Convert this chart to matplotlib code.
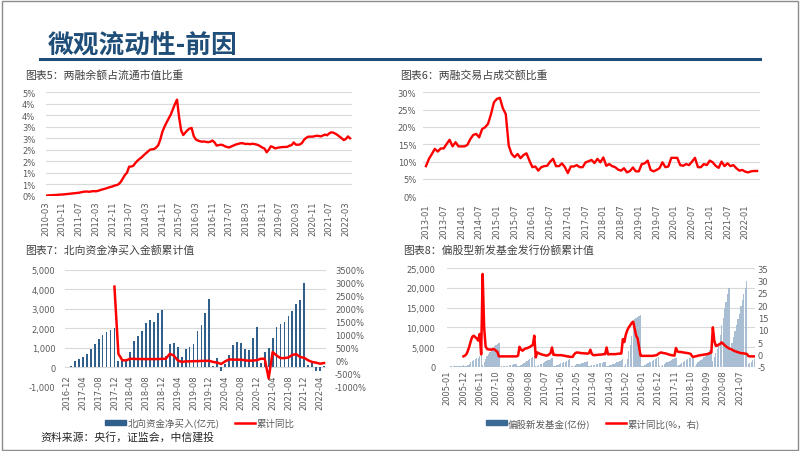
import numpy as np
import pandas as pd
import matplotlib
matplotlib.use("Agg")
import matplotlib.pyplot as plt
from matplotlib.patches import Rectangle
from matplotlib.lines import Line2D
from matplotlib.ticker import FuncFormatter, MultipleLocator

plt.rcParams['font.family'] = ['DejaVu Sans', 'Noto Sans CJK SC']
CJK = ['Noto Sans CJK SC', 'DejaVu Sans']

# ---------------- data ----------------
# Chart 5: margin balance / free-float market cap (%), monthly 2010-03 .. 2022-05
margin_months = pd.period_range('2010-03', '2022-05', freq='M').strftime('%Y-%m').tolist()
margin_share = [
    0.00, 0.01, 0.02, 0.02, 0.03, 0.03, 0.04, 0.05, 0.05, 0.06,
    0.07, 0.08, 0.09, 0.10, 0.11, 0.12, 0.13, 0.15, 0.17, 0.18, 0.18, 0.17,
    0.19, 0.20, 0.19, 0.21, 0.24, 0.27, 0.29, 0.32, 0.35, 0.38, 0.40, 0.44,
    0.46, 0.50, 0.60, 0.75, 0.90, 1.00, 1.26, 1.27, 1.30, 1.42, 1.52, 1.60,
    1.67, 1.76, 1.84, 1.92, 2.00, 2.02, 2.03, 2.10, 2.20, 2.45, 2.79, 3.00,
    3.19, 3.36, 3.53, 3.76, 3.99, 4.18, 3.41, 2.83, 2.64, 2.75, 2.85, 2.92,
    2.95, 2.60, 2.45, 2.40, 2.37, 2.35, 2.36, 2.34, 2.33, 2.35, 2.40, 2.32,
    2.18, 2.20, 2.22, 2.20, 2.15, 2.12, 2.10, 2.14, 2.18, 2.22, 2.25, 2.27,
    2.29, 2.27, 2.25, 2.26, 2.24, 2.26, 2.25, 2.23, 2.20, 2.15, 2.09, 2.05,
    1.89, 2.00, 2.15, 2.12, 2.06, 2.08, 2.10, 2.11, 2.12, 2.12, 2.13, 2.18,
    2.20, 2.32, 2.22, 2.22, 2.23, 2.30, 2.44, 2.52, 2.57, 2.57, 2.57, 2.59,
    2.61, 2.60, 2.58, 2.62, 2.66, 2.63, 2.71, 2.76, 2.74, 2.70, 2.64, 2.57,
    2.50, 2.42, 2.47, 2.58, 2.50,
]
margin_yticks = [0, 0.5, 1.0, 1.5, 2.0, 2.5, 3.0, 3.5, 4.0, 4.5]
margin_ylabels = ['0%', '1%', '1%', '2%', '2%', '3%', '3%', '4%', '4%', '5%']

# Chart 6: margin trading / total turnover (%), monthly 2013-01 .. 2022-05
turnover_months = pd.period_range('2013-01', '2022-05', freq='M').strftime('%Y-%m').tolist()
turnover_share = [
    8.7, 10.8, 12.2, 13.7, 12.9, 13.8, 13.8, 15.1, 16.3, 14.4, 15.6, 14.4,
    14.4, 14.4, 14.8, 16.5, 17.7, 18.0, 17.0, 19.4, 19.9, 20.9, 23.7, 27.1,
    28.1, 28.4, 25.4, 23.7, 14.6, 12.2, 11.3, 12.2, 11.0, 11.9, 12.4, 10.3,
    8.4, 8.6, 7.4, 8.4, 8.7, 8.8, 10.0, 10.8, 8.7, 8.7, 9.5, 8.4,
    6.7, 8.6, 8.6, 9.0, 8.4, 8.4, 9.8, 10.1, 10.5, 9.6, 10.8, 9.8,
    11.2, 8.8, 9.3, 8.7, 8.4, 7.7, 7.4, 8.1, 6.9, 7.3, 8.3, 7.2,
    7.2, 9.3, 9.5, 10.3, 7.6, 7.2, 7.6, 8.1, 9.8, 8.4, 8.6, 11.1,
    11.1, 11.1, 9.0, 8.8, 9.3, 9.0, 10.0, 11.1, 8.4, 8.4, 9.3, 9.0,
    10.3, 9.8, 8.8, 8.2, 10.0, 8.7, 9.5, 8.7, 9.0, 8.1, 7.4, 7.6,
    7.1, 6.9, 7.2, 7.3, 7.3,
]

# Chart 7: northbound net buying, cumulative YTD (100m CNY) and YoY (%), 2016-12 .. 2022-05
nb_months = pd.period_range('2016-12', '2022-05', freq='M').strftime('%Y-%m').tolist()
nb_net_buy = [
    30,
    80, 300, 400, 510, 700, 940, 1180, 1450, 1660, 1800, 1910, 2020,
    310, 340, 380, 790, 1320, 1590, 1880, 2260, 2430, 2310, 2790, 2940,
    600, 1200, 1250, 1060, 510, 940, 1060, 1200, 1880, 2170, 2790, 3500,
    60, 460, -170, 150, 630, 1150, 1280, 1230, 940, 900, 1500, 2050,
    220, 770, 975, 1520, 2050, 2200, 2340, 2620, 2900, 3250, 3450, 4320,
    120, 200, -170, -200, 60,
]
nan = float('nan')
nb_yoy = [
    nan,
    nan, nan, nan, nan, nan, nan, nan, nan, nan, nan, nan, 2850,
    265, 15, 15, 75, 70, 65, 65, 60, 65, 60, 65, 70,
    75, 265, 200, 15, -50, -25, -25, -20, -15, -10, -5, -5,
    -50, -75, -125, -25, 50, 40, 40, 40, 15, 0, 5, 20,
    75, 75, -680, 330, 200, 100, 100, 125, 225, 250, 140, 110,
    15, -50, -75, -115, -90,
]

# Chart 8: equity-oriented new fund issuance, cumulative YTD (100m units) and YoY, 2005-01 .. 2022-05
fund_months = pd.period_range('2005-01', '2022-05', freq='M').strftime('%Y-%m').tolist()
fund_issuance = [
    20, 40, 60, 80, 100, 130, 160, 190, 220, 260, 300, 350,
    150, 300, 500, 800, 1100, 1400, 1700, 1900, 2100, 2300, 2600, 2900,
    500, 1200, 2000, 2600, 3200, 3800, 4300, 4800, 5200, 5500, 5700, 5900,
    50, 100, 150, 200, 250, 300, 400, 450, 500, 600, 700, 800,
    150, 300, 500, 700, 900, 1200, 1500, 1800, 2000, 2200, 2400, 2600,
    100, 250, 400, 600, 800, 1000, 1200, 1400, 1600, 1800, 2000, 2200,
    100, 250, 400, 550, 700, 850, 1000, 1150, 1300, 1450, 1650, 1900,
    80, 200, 300, 450, 600, 700, 800, 950, 1050, 1200, 1300, 1500,
    100, 200, 350, 450, 550, 650, 750, 850, 950, 1050, 1150, 1250,
    100, 200, 350, 500, 650, 800, 950, 1100, 1300, 1450, 1650, 1850,
    300, 700, 2000, 4000, 5500, 7800, 11200, 12000, 12400, 12700, 12900, 13100,
    100, 300, 500, 700, 900, 1100, 1300, 1500, 1800, 2000, 2200, 2500,
    100, 300, 500, 700, 900, 1100, 1300, 1500, 1700, 1900, 2100, 2300,
    200, 500, 800, 1000, 1200, 1400, 1600, 1900, 2100, 2300, 2500, 2700,
    300, 700, 1100, 1400, 1700, 2000, 2400, 2800, 3200, 3700, 4200, 4800,
    1500, 2500, 3500, 4500, 5500, 8000, 10500, 12500, 15000, 16500, 18500, 20000,
    4000, 6000, 7500, 9000, 10500, 12000, 13500, 15500, 17000, 18500, 20000, 21700,
    700, 1000, 1300, 1600, 1900,
]
fund_yoy = [
    nan, nan, nan, nan, nan, nan, nan, nan, nan, nan, nan, -0.8,
    -0.5, 0.1, 1.5, 3.3, 5.5, 7.2, 7.6, 7.0, 6.5, 5.6, 8.3, 0.0,
    32.7, 11.0, 3.3, 2.2, 2.0, 2.0, 1.9, 2.2, 2.0, 1.5, 1.0, -0.8,
    -0.8, -0.8, -0.8, -0.8, -0.8, -0.8, -0.8, -0.8, -0.8, -0.8, -0.8, -0.8,
    -0.5, 3.1, 2.0, 1.5, 2.0, 2.4, 2.5, 2.8, 3.0, 3.5, 3.8, 7.6,
    -1.2, 0.8, 0.5, 0.2, 0.0, -0.2, -0.3, -0.5, -0.4, 0.0, 0.5, 2.8,
    -0.2, -0.2, -0.3, -0.3, -0.3, -0.3, -0.4, -0.5, -0.6, -0.8, -0.8, -1.0,
    -1.0, -1.0, 0.0, 0.6, 0.8, 0.7, 0.6, 0.5, 0.5, 0.4, 0.4, 0.3,
    0.5, 1.9, 0.2, -0.3, -0.3, -0.2, -0.2, -0.1, -0.1, 0.0, 0.1, 0.1,
    2.8, 0.0, 0.1, 0.1, 0.1, 0.1, 0.1, 0.2, 0.3, 0.3, 0.4, 6.2,
    5.0, 8.0, 9.8, 11.0, 11.8, 12.8, 13.3, 10.4, 7.7, 6.5, 3.0, -0.5,
    -0.6, -0.6, -0.6, -0.6, -0.6, -0.6, -0.6, -0.6, -0.5, -0.4, -0.3, 0.2,
    0.6, 0.8, 0.6, 0.5, 0.4, 0.2, 0.0, -0.2, -0.3, -0.4, -0.5, 2.6,
    1.2, 1.0, 1.0, 0.9, 0.8, 0.7, 0.6, 0.5, 0.4, 0.2, -0.8, -1.0,
    -0.8, -0.7, -0.5, -0.4, -0.3, -0.2, -0.1, 0.0, 0.1, 0.3, 0.5, 0.8,
    11.0, 5.5, 3.5, 3.6, 4.0, 4.3, 4.9, 4.3, 3.7, 3.2, 2.8, 2.4,
    2.2, 1.9, 1.6, 1.3, 1.1, 0.9, 0.7, 0.5, 0.5, 0.4, 0.3, 0.2,
    -0.6, -0.8, -0.8, -0.8, -0.8,
]

# ---------------- styling ----------------
W, H = 802, 452
RED = '#FF0000'
GRID = '#D9D9D9'
TICKC = '#595959'
TITLEC = '#404040'
NAVY = '#1F4E79'
BAR7 = '#2F5F8A'
BAR8 = '#A9BED2'
BAR8_LEG = '#3A6A96'
TFS = 6.0

fig = plt.figure(figsize=(W / 100, H / 100), dpi=100)
fig.patch.set_facecolor('white')


def px_axes(l, t, r, b):
    return fig.add_axes([l / W, 1 - b / H, (r - l) / W, (b - t) / H])


def style_axis(ax):
    for s in ax.spines.values():
        s.set_visible(False)
    ax.tick_params(axis='both', length=0, labelsize=TFS, labelcolor=TICKC)


def fig_text(x, y, s, **kw):
    fig.text(x / W, 1 - y / H, s, **kw)


# frame, header
fig.add_artist(Rectangle((1.5 / W, 1.5 / H), (798 - 1.5) / W, (450 - 1.5) / H,
                         transform=fig.transFigure, fill=False, edgecolor='#8C8C8C', lw=1.0))
fig.add_artist(Line2D([40 / W, 760 / W], [1 - 59.5 / H, 1 - 59.5 / H],
                      transform=fig.transFigure, color=NAVY, lw=2.2))
fig_text(48, 45, '微观流动性-前因', family=CJK, fontsize=18.5, fontweight='bold',
         color=NAVY, va='center', ha='left')

# ---------- chart 5 ----------
fig_text(25, 75, '图表5：两融余额占流通市值比重', family=CJK, fontsize=7.8, color=TITLEC, va='center')
ax5 = px_axes(45.7, 93.3, 351.7, 196.7)
x5 = np.arange(len(margin_share))
ax5.plot(x5, margin_share, color=RED, lw=1.7, solid_joinstyle='round')
ax5.set_xlim(0, 146.8)
ax5.set_ylim(0, 4.5)
style_axis(ax5)
ax5.set_yticks(margin_yticks)
ax5.set_yticklabels(margin_ylabels)
ax5.set_xticks(x5[::8])
ax5.set_xticklabels(margin_months[::8])
ax5.tick_params(axis='x', labelrotation=90, pad=3.5)
ax5.tick_params(axis='y', pad=7.5)
ax5.yaxis.grid(True, color=GRID, lw=0.8)
ax5.set_axisbelow(True)

# ---------- chart 6 ----------
fig_text(400, 75, '图表6：两融交易占成交额比重', family=CJK, fontsize=7.8, color=TITLEC, va='center')
ax6 = px_axes(423.3, 93.3, 760, 197.3)
x6 = np.arange(len(turnover_share))
ax6.plot(x6, turnover_share, color=RED, lw=1.7, solid_joinstyle='round')
ax6.set_xlim(-0.9, 113)
ax6.set_ylim(0, 30)
style_axis(ax6)
ax6.yaxis.set_major_locator(MultipleLocator(5))
ax6.yaxis.set_major_formatter(FuncFormatter(lambda v, p: f'{v:.0f}%'))
ax6.set_xticks(x6[::6])
ax6.set_xticklabels(turnover_months[::6])
ax6.tick_params(axis='x', labelrotation=90, pad=5)
ax6.tick_params(axis='y', pad=5)
ax6.yaxis.grid(True, color=GRID, lw=0.8)
ax6.set_axisbelow(True)

# ---------- chart 7 ----------
fig_text(25, 250, '图表7：北向资金净买入金额累计值', family=CJK, fontsize=7.8, color=TITLEC, va='center')
ax7 = px_axes(65, 270.7, 326, 387.7)
x7 = np.arange(len(nb_net_buy))
ax7.bar(x7, nb_net_buy, width=0.45, color=BAR7)
ax7.set_xlim(-0.5, len(x7) - 0.5)
ax7.set_ylim(-1000, 5000)
ax7.spines['bottom'].set_position(('data', 0))
style_axis(ax7)
ax7.yaxis.set_major_locator(MultipleLocator(1000))
ax7.yaxis.set_major_formatter(FuncFormatter(lambda v, p: f'{v:,.0f}'))
ax7.set_xticks(x7[::4])
ax7.set_xticklabels(nb_months[::4])
ax7.tick_params(axis='x', labelrotation=90, pad=5)
ax7.tick_params(axis='y', pad=7)
ax7.yaxis.grid(True, color=GRID, lw=0.8)
ax7.set_axisbelow(True)
ax7b = ax7.twinx()
line7, = ax7b.plot(x7, nb_yoy, color=RED, lw=1.8, solid_joinstyle='round')
ax7b.set_ylim(-1000, 3500)
style_axis(ax7b)
ax7b.yaxis.set_major_locator(MultipleLocator(500))
ax7b.yaxis.set_major_formatter(FuncFormatter(lambda v, p: f'{v:.0f}%'))
ax7b.tick_params(axis='y', pad=6.5)
ax7b.set_xlim(-0.5, len(x7) - 0.5)
fig.legend(handles=[Rectangle((0, 0), 1, 1, color=BAR7), line7],
           labels=['北向资金净买入(亿元)', '累计同比'],
           loc='center', bbox_to_anchor=(200 / W, 1 - 424 / H), ncol=2, frameon=False,
           prop={'family': CJK, 'size': 6.8}, handlelength=2.2, handleheight=0.5,
           handletextpad=0.15, columnspacing=1.6, labelcolor=TICKC)

# ---------- chart 8 ----------
fig_text(403, 250, '图表8：偏股型新发基金发行份额累计值', family=CJK, fontsize=7.8, color=TITLEC, va='center')
ax8 = px_axes(446.5, 269.3, 754.9, 367.7)
x8 = np.arange(len(fund_issuance))
ax8.bar(x8, fund_issuance, width=0.85, color=BAR8, lw=0)
ax8.set_xlim(-0.5, len(x8) - 0.5)
ax8.set_ylim(0, 25000)
style_axis(ax8)
ax8.yaxis.set_major_locator(MultipleLocator(5000))
ax8.yaxis.set_major_formatter(FuncFormatter(lambda v, p: f'{v:,.0f}'))
ax8.set_xticks(x8[::11])
ax8.set_xticklabels(fund_months[::11])
ax8.tick_params(axis='x', labelrotation=90, pad=2)
ax8.tick_params(axis='y', pad=8)
ax8.yaxis.grid(True, color=GRID, lw=0.8)
ax8.set_axisbelow(True)
ax8b = ax8.twinx()
line8, = ax8b.plot(x8, fund_yoy, color=RED, lw=1.8, solid_joinstyle='round')
ax8b.set_ylim(-5, 35)
style_axis(ax8b)
ax8b.yaxis.set_major_locator(MultipleLocator(5))
ax8b.yaxis.set_major_formatter(FuncFormatter(lambda v, p: f'{v:.0f}'))
ax8b.tick_params(axis='y', pad=2)
ax8b.set_xlim(-0.5, len(x8) - 0.5)
fig.legend(handles=[Rectangle((0, 0), 1, 1, color=BAR8_LEG), line8],
           labels=['偏股新发基金(亿份)', '累计同比(%，右)'],
           loc='center', bbox_to_anchor=(593 / W, 1 - 424 / H), ncol=2, frameon=False,
           prop={'family': CJK, 'size': 6.8}, handlelength=2.2, handleheight=0.5,
           handletextpad=0.15, columnspacing=1.6, labelcolor=TICKC)

# source
fig_text(40, 437, '资料来源：央行，证监会，中信建投', family=CJK, fontsize=7.8,
         style='italic', color='#262626', va='center')

fig.savefig('out.png', dpi=100, facecolor='white')
